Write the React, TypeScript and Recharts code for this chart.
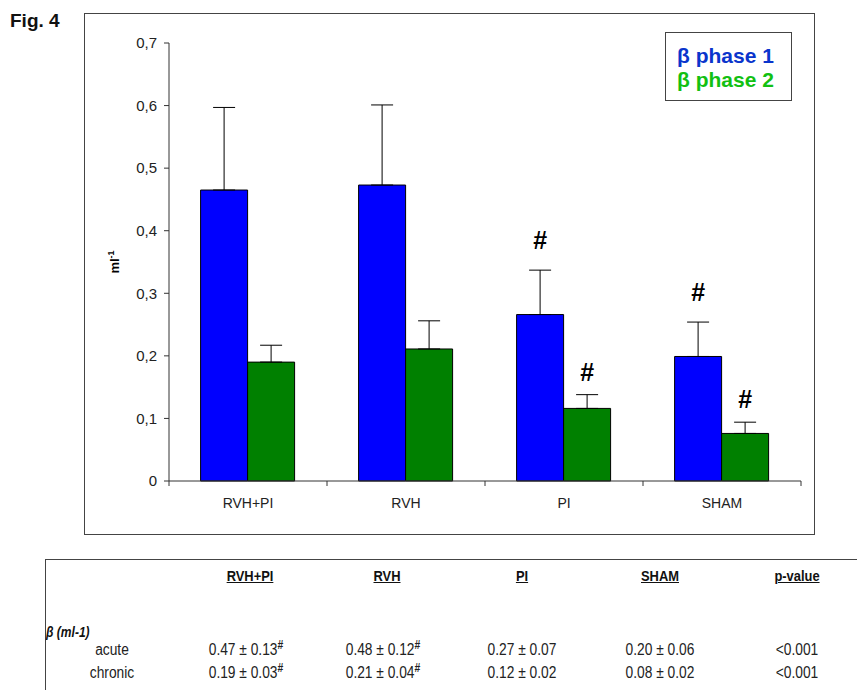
import React from "react";
import {
  Bar,
  BarChart,
  ErrorBar,
  LabelList,
  XAxis,
  YAxis,
} from "recharts";

const categories = ["RVH+PI", "RVH", "PI", "SHAM"];
const phase1 = [0.465, 0.473, 0.266, 0.199];
const phase1Err = [0.132, 0.128, 0.071, 0.055];
const phase2 = [0.19, 0.211, 0.116, 0.076];
const phase2Err = [0.027, 0.045, 0.022, 0.018];
const phase1Sig = ["", "", "#", "#"];
const phase2Sig = ["", "", "#", "#"];
const yTicks = [0, 0.1, 0.2, 0.3, 0.4, 0.5, 0.6, 0.7];

const seriesNames = ["β phase 1", "β phase 2"];

const tableHeaders = ["RVH+PI", "RVH", "PI", "SHAM", "p-value"];
const rowLabels = ["acute", "chronic"];
const acuteRow = ["0.47 ± 0.13", "0.48 ± 0.12", "0.27 ± 0.07", "0.20 ± 0.06", "<0.001"];
const acuteMark = ["#", "#", "", "", ""];
const chronicRow = ["0.19 ± 0.03", "0.21 ± 0.04", "0.12 ± 0.02", "0.08 ± 0.02", "<0.001"];
const chronicMark = ["#", "#", "", "", ""];

const data = categories.map((name, i) => ({
  name,
  p1: phase1[i],
  p2: phase2[i],
  e1: [0, phase1Err[i]],
  e2: [0, phase2Err[i]],
  s1: phase1Sig[i],
  s2: phase2Sig[i],
}));

// plot box
const PLOT_LEFT = 169;
const PLOT_RIGHT = 801;
const HALF_BAND = (PLOT_RIGHT - PLOT_LEFT) / categories.length / 2;

const BLUE = "#0000ff";
const GREEN = "#008000";
const AXIS = "#333";
const SANS = "'Liberation Sans', Arial, sans-serif";

const fmtY = (v: number) => (v === 0 ? "0" : v.toFixed(1).replace(".", ","));

function XTick(props: any) {
  const { x, y, payload, index } = props;
  const last = index === categories.length - 1;
  return (
    <g>
      <line x1={x - HALF_BAND} x2={x - HALF_BAND} y1={y} y2={y + 5} stroke={AXIS} />
      {last && <line x1={x + HALF_BAND} x2={x + HALF_BAND} y1={y} y2={y + 5} stroke={AXIS} />}
      <text x={x} y={y + 22} textAnchor="middle" dominantBaseline="central" fontSize={14} fill="#222" fontFamily={SANS}>
        {payload.value}
      </text>
    </g>
  );
}

function hashLabel(values: number[], errs: number[], gap: number) {
  return (props: any) => {
    const { x, y, width, height, value, index } = props;
    if (!value) return null;
    const errPx = (errs[index] / values[index]) * height;
    return (
      <text
        x={x + width / 2}
        y={y - errPx - gap}
        textAnchor="middle"
        dominantBaseline="central"
        fontSize={25}
        fontWeight="bold"
        fontFamily={SANS}
        fill="#000"
      >
        {value}
      </text>
    );
  };
}

function YLabel() {
  return (
    <text x={119} y={262} textAnchor="middle" transform="rotate(-90, 119, 262)" fontSize={13} fontWeight="bold" fontFamily={SANS} fill="#000">
      <tspan>ml</tspan>
      <tspan dy={-5} fontSize={9}>-1</tspan>
    </text>
  );
}

const colX = [250, 387, 522, 660, 797];

function Cell({ cx, top, children, style }: any) {
  return (
    <div
      style={{
        position: "absolute",
        left: cx - 70,
        width: 140,
        top,
        textAlign: "center",
        lineHeight: 1,
        whiteSpace: "nowrap",
        transform: "scaleX(0.86)",
        ...style,
      }}
    >
      {children}
    </div>
  );
}

export default function App() {
  return (
    <div style={{ position: "absolute", left: 0, top: 0, width: 857, height: 690, background: "#fff", fontFamily: SANS, overflow: "hidden" }}>
      <div style={{ position: "absolute", left: 10, top: 11, fontSize: 19, fontWeight: "bold", lineHeight: 1, color: "#111" }}>Fig. 4</div>
      <div style={{ position: "absolute", left: 84, top: 13, width: 729, height: 520, border: "1px solid #444" }} />
      <div style={{ position: "absolute", left: 0, top: 0 }}>
        <BarChart
          width={857}
          height={540}
          data={data}
          margin={{ top: 43, right: 56, bottom: 29, left: 109 }}
          barCategoryGap="20%"
          barGap={0}
        >
          <XAxis
            dataKey="name"
            height={30}
            stroke={AXIS}
            tickLine={false}
            tickSize={0}
            tickMargin={0}
            interval={0}
            tick={<XTick />}
          />
          <YAxis
            width={60}
            domain={[0, 0.7]}
            ticks={yTicks}
            tickFormatter={fmtY}
            stroke={AXIS}
            tickSize={5}
            tickMargin={7}
            interval={0}
            tick={{ fontSize: 15, fill: "#222", fontFamily: SANS }}
            label={{ content: <YLabel /> }}
          />
          <Bar dataKey="p1" name={seriesNames[0]} fill={BLUE} stroke="#000" strokeWidth={1} isAnimationActive={false}>
            <ErrorBar dataKey="e1" width={11} stroke="#000" strokeWidth={1} direction="y" />
            <LabelList dataKey="s1" content={hashLabel(phase1, phase1Err, 30)} />
          </Bar>
          <Bar dataKey="p2" name={seriesNames[1]} fill={GREEN} stroke="#000" strokeWidth={1} isAnimationActive={false}>
            <ErrorBar dataKey="e2" width={11} stroke="#000" strokeWidth={1} direction="y" />
            <LabelList dataKey="s2" content={hashLabel(phase2, phase2Err, 23)} />
          </Bar>
        </BarChart>
      </div>
      {/* legend */}
      <div style={{ position: "absolute", left: 665, top: 32, width: 125, height: 67, border: "1px solid #444", background: "#fff" }}>
        {seriesNames.map((s, i) => (
          <div key={s} style={{ position: "absolute", left: 11, top: 12 + i * 24, fontSize: 21, fontWeight: "bold", lineHeight: 1, color: i === 0 ? "#0a35cc" : "#12c012", whiteSpace: "nowrap" }}>
            {s}
          </div>
        ))}
      </div>
      {/* table */}
      <div style={{ position: "absolute", left: 45, top: 559, width: 830, height: 140, borderTop: "1px solid #444", borderLeft: "1px solid #444" }} />
      {tableHeaders.map((h, i) => (
        <Cell key={h} cx={colX[i]} top={568} style={{ fontWeight: "bold", fontSize: 15, textDecoration: "underline", color: "#111" }}>
          {h}
        </Cell>
      ))}
      <div style={{ position: "absolute", left: 46, top: 625, fontWeight: "bold", fontStyle: "italic", fontSize: 14, lineHeight: 1, color: "#111", transform: "scaleX(0.86)", transformOrigin: "left" }}>
        β (ml-1)
      </div>
      {[acuteRow, chronicRow].map((row, r) => (
        <React.Fragment key={r}>
          <Cell cx={112} top={642 + r * 23} style={{ fontSize: 16, color: "#222" }}>
            {rowLabels[r]}
          </Cell>
          {row.map((v, i) => (
            <Cell key={i} cx={colX[i] - (i < 2 ? 4 : 0)} top={642 + r * 23} style={{ fontSize: 16, color: "#222" }}>
              {v}
              {(r === 0 ? acuteMark : chronicMark)[i] && (
                <sup style={{ fontSize: 12, fontWeight: "bold", lineHeight: 0, verticalAlign: 6 }}>
                  {(r === 0 ? acuteMark : chronicMark)[i]}
                </sup>
              )}
            </Cell>
          ))}
        </React.Fragment>
      ))}
    </div>
  );
}
